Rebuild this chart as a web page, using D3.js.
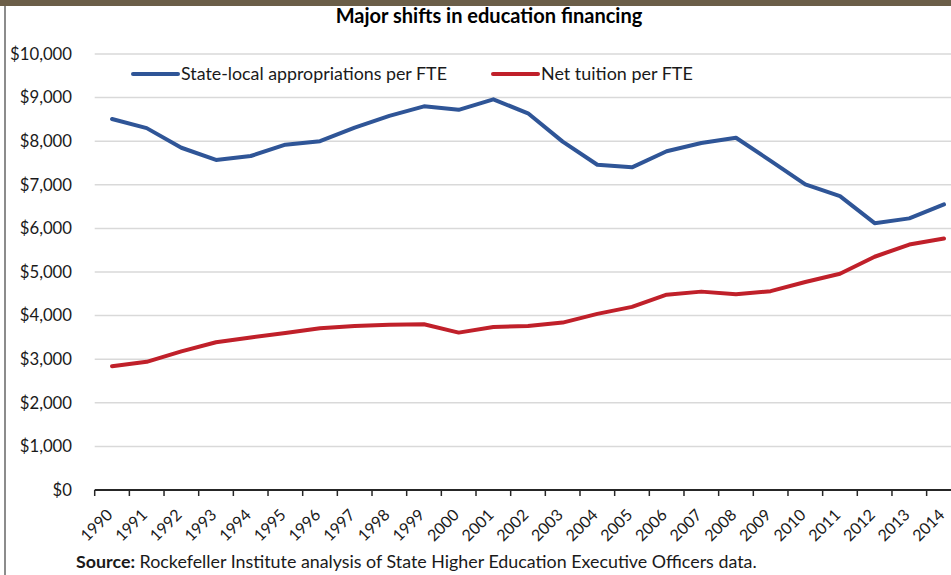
<!DOCTYPE html>
<html>
<head>
<meta charset="utf-8">
<script src="https://cdn.jsdelivr.net/npm/d3@7"></script>
<style>
  html, body { margin: 0; padding: 0; background: #fff; }
  svg { display: block; font-family: Lato, "Open Sans", sans-serif; }
</style>
</head>
<body>
<svg id="chart" width="951" height="575"></svg>
<script>
// Data: per-FTE funding for public higher education, 1990–2014
const years = ["1990","1991","1992","1993","1994","1995","1996","1997","1998","1999","2000","2001","2002","2003","2004","2005","2006","2007","2008","2009","2010","2011","2012","2013","2014"];
const appropriations = [8510, 8300, 7850, 7570, 7660, 7920, 8000, 8310, 8580, 8800, 8720, 8960, 8640, 7990, 7460, 7400, 7770, 7960, 8080, 7550, 7010, 6740, 6120, 6230, 6550];
const tuition = [2840, 2940, 3180, 3390, 3500, 3600, 3710, 3760, 3790, 3800, 3610, 3740, 3760, 3840, 4040, 4200, 4480, 4550, 4490, 4560, 4770, 4960, 5350, 5630, 5770];
const yTicks = [0, 1000, 2000, 3000, 4000, 5000, 6000, 7000, 8000, 9000, 10000];
const seriesNames = ["State-local appropriations per FTE", "Net tuition per FTE"];
const seriesColors = ["#2F5597", "#C0202A"];

const svg = d3.select("#chart");

// Scale a text element so its rendered width equals the given width
function fitWidth(sel, target) {
  const w = sel.node().getComputedTextLength();
  const fs = parseFloat(sel.attr("font-size"));
  sel.attr("font-size", (fs * target / w).toFixed(2));
  return sel;
}

// Frame: brown header band and grey left rule
svg.append("rect").attr("x", 0).attr("y", 0).attr("width", 951).attr("height", 6).attr("fill", "#6B5E48");
svg.append("rect").attr("x", 4).attr("y", 6).attr("width", 2).attr("height", 569).attr("fill", "#8C8C8C");

// Plot area (the right edge runs past the frame)
const plotLeft = 94.7, plotRight = 961.3, plotTop = 54, plotBottom = 490;
const x = d3.scaleBand().domain(years).range([plotLeft, plotRight]);
const y = d3.scaleLinear().domain([0, 10000]).range([plotBottom, plotTop]);
const cx = d => x(d) + x.bandwidth() / 2;

// Title
fitWidth(svg.append("text")
  .attr("x", 489).attr("y", 23)
  .attr("text-anchor", "middle")
  .attr("font-size", 16).attr("font-weight", "bold").attr("fill", "#000")
  .text("Major shifts in education financing"), 307);

// Gridlines
svg.append("g").selectAll("line")
  .data(yTicks.filter(t => t > 0))
  .join("line")
  .attr("x1", plotLeft).attr("x2", plotRight)
  .attr("y1", d => y(d)).attr("y2", d => y(d))
  .attr("stroke", "#D9D9D9").attr("stroke-width", 1.5);

// Y axis labels
const fmt = d => "$" + d3.format(",")(d);
const yLab = svg.append("g").selectAll("text")
  .data(yTicks).join("text")
  .attr("x", 72).attr("y", d => y(d))
  .attr("dy", "0.35em")
  .attr("text-anchor", "end")
  .attr("font-size", 17).attr("fill", "#1A1A1A")
  .text(fmt);
{
  const ref = yLab.filter(d => d === 10000);
  fitWidth(ref, 62);
  yLab.attr("font-size", ref.attr("font-size"));
}

// X axis: baseline, tick marks between categories, rotated year labels
svg.append("g").selectAll("line")
  .data(years.map(d => x(d)).concat([plotRight]))
  .join("line")
  .attr("x1", d => d).attr("x2", d => d)
  .attr("y1", plotBottom).attr("y2", plotBottom + 6)
  .attr("stroke", "#262626").attr("stroke-width", 1.5);
svg.append("line")
  .attr("x1", plotLeft).attr("x2", plotRight)
  .attr("y1", plotBottom).attr("y2", plotBottom)
  .attr("stroke", "#262626").attr("stroke-width", 2.2);

svg.append("g").selectAll("text")
  .data(years).join("text")
  .attr("transform", d => `translate(${cx(d) + 1.5},${plotBottom + 26}) rotate(-45)`)
  .attr("text-anchor", "end")
  .attr("font-size", 16).attr("fill", "#1A1A1A")
  .text(d => d);

// Series lines
const line = d3.line().x((d, i) => cx(years[i])).y(d => y(d));
[appropriations, tuition].forEach((vals, i) => {
  svg.append("path")
    .datum(vals)
    .attr("d", line)
    .attr("fill", "none")
    .attr("stroke", seriesColors[i])
    .attr("stroke-width", 4)
    .attr("stroke-linejoin", "round")
    .attr("stroke-linecap", "round");
});

// Legend
const legendItems = [
  { x: 133, width: 266 },
  { x: 493, width: 152 }
];
legendItems.forEach((item, i) => {
  svg.append("line")
    .attr("x1", item.x).attr("x2", item.x + 45)
    .attr("y1", 74).attr("y2", 74)
    .attr("stroke", seriesColors[i]).attr("stroke-width", 4)
    .attr("stroke-linecap", "round");
  fitWidth(svg.append("text")
    .attr("x", item.x + 48).attr("y", 74)
    .attr("dy", "0.35em")
    .attr("font-size", 16).attr("fill", "#1A1A1A")
    .text(seriesNames[i]), item.width);
});

// Source note
const src = svg.append("text")
  .attr("x", 76).attr("y", 568)
  .attr("font-size", 16).attr("fill", "#1A1A1A");
src.append("tspan").attr("font-weight", "bold").text("Source:");
src.append("tspan").text(" Rockefeller Institute analysis of State Higher Education Executive Officers data.");
fitWidth(src, 681);
</script>
</body>
</html>
